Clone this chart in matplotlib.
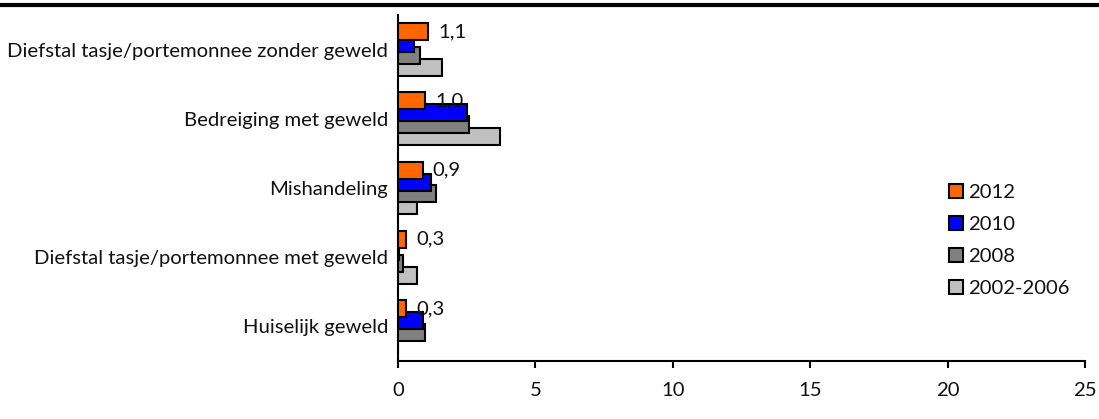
import matplotlib.pyplot as plt
import numpy as np
from matplotlib.lines import Line2D

# Categorieën van boven naar beneden
categorieen = [
    "Diefstal tasje/portemonnee zonder geweld",
    "Bedreiging met geweld",
    "Mishandeling",
    "Diefstal tasje/portemonnee met geweld",
    "Huiselijk geweld",
]
jaren = ["2012", "2010", "2008", "2002-2006"]
waarden_2012 = [1.1, 1.0, 0.9, 0.3, 0.3]
waarden_2010 = [0.6, 2.5, 1.2, 0.05, 0.9]
waarden_2008 = [0.8, 2.6, 1.4, 0.2, 1.0]
waarden_2002_2006 = [1.6, 3.7, 0.7, 0.7, 0.0]
labels_2012 = ["1,1", "1,0", "0,9", "0,3", "0,3"]

kleuren = ["#FF6600", "#0000FF", "#808080", "#C0C0C0"]
reeksen = [waarden_2012, waarden_2010, waarden_2008, waarden_2002_2006]

plt.rcParams["font.family"] = ["Lato", "DejaVu Sans"]
fs = 14.6

fig = plt.figure(figsize=(10.99, 4.19), dpi=100)
ax = fig.add_axes([0.3621, 0.1384, 0.6252, 0.8258])

y = np.arange(len(categorieen))
hoogte = 0.245
stap = 0.172
offsets = [-1.5 * stap, -0.5 * stap, 0.5 * stap, 1.5 * stap]

# eerst de achterste reeks tekenen zodat 2012 bovenop ligt
for i in reversed(range(4)):
    ax.barh(y + offsets[i], reeksen[i], height=hoogte, color=kleuren[i],
            edgecolor="black", linewidth=1.5, label=jaren[i], zorder=3 + (4 - i))

for yi, w, lab in zip(y, waarden_2012, labels_2012):
    ax.annotate(lab, (w, yi + offsets[0]), xytext=(7, 0), textcoords="offset points",
                ha="left", va="center", fontsize=fs, color="#111111", zorder=10)

ax.set_ylim(len(categorieen) - 0.5, -0.5)
ax.set_xlim(0, 25)
ax.set_xticks([0, 5, 10, 15, 20, 25])
ax.set_yticks(y)
ax.set_yticklabels(categorieen, fontsize=fs, color="#111111")
ax.tick_params(axis="y", length=0, pad=7)
ax.tick_params(axis="x", direction="out", length=5, width=1.5, labelsize=fs,
               labelcolor="#111111", pad=10)

for kant in ["top", "right"]:
    ax.spines[kant].set_visible(False)
for kant in ["left", "bottom"]:
    ax.spines[kant].set_linewidth(1.5)

handles = [Line2D([], [], marker="s", linestyle="none", markersize=10,
                  markerfacecolor=k, markeredgecolor="black", markeredgewidth=1.5)
           for k in kleuren]
fig.legend(handles, jaren, loc="upper left", bbox_to_anchor=(0.855, 0.58),
           frameon=False, fontsize=fs, handlelength=0.8, handletextpad=0.2,
           labelspacing=0.72, borderaxespad=0, labelcolor="#111111")

# lijn bovenaan de afbeelding
fig.add_artist(Line2D([0, 1], [0.988, 0.988], color="black", linewidth=3,
                      transform=fig.transFigure))

fig.savefig("out.png", dpi=100)
